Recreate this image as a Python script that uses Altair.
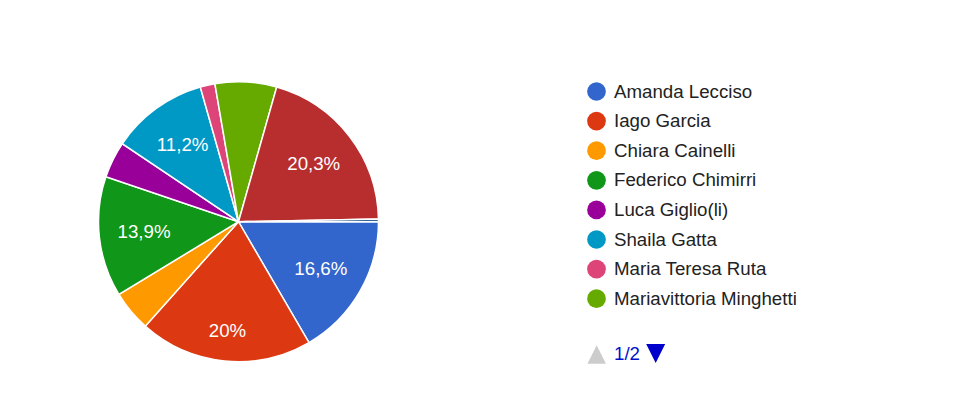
import altair as alt
import pandas as pd
import math

names = ["Amanda Lecciso", "Iago Garcia", "Chiara Cainelli", "Federico Chimirri",
         "Luca Giglio(li)", "Shaila Gatta", "Maria Teresa Ruta",
         "Mariavittoria Minghetti", "Altro 1", "Altro 2"]
pct = [16.6, 20.0, 4.7, 13.9, 4.2, 11.2, 1.7, 7.1, 20.3, 0.3]
colors = ["#3366cc", "#dc3912", "#ff9900", "#109618", "#990099", "#0099c6",
          "#dd4477", "#66aa00", "#b82e2e", "#316395"]
legend_names = names[:8]
page_text = ["1/2"]

df = pd.DataFrame({"name": names, "pct": pct, "idx": list(range(len(names)))})

CX, CY = 230.5, 213.7
FONT = "Liberation Sans"
FS = 18.7
tscale = alt.Scale(domain=[0, 100], range=[math.pi / 2, math.pi / 2 + 2 * math.pi])

pie = alt.Chart(df).mark_arc(outerRadius=140, stroke="white", strokeWidth=1.5).encode(
    theta=alt.Theta("pct:Q", stack=True, scale=tscale),
    order=alt.Order("idx:Q", sort="ascending"),
    color=alt.Color("name:N",
                    scale=alt.Scale(domain=names, range=colors),
                    legend=alt.Legend(values=legend_names, title=None, orient="none",
                                      legendX=579, legendY=74,
                                      symbolType="circle", symbolSize=350,
                                      symbolStrokeWidth=0, labelFont=FONT,
                                      labelFontSize=FS, labelColor="#222222",
                                      labelOffset=8, rowPadding=9.6, padding=0,
                                      labelLimit=400)),
    x=alt.value(CX), y=alt.value(CY),
)

labels = alt.Chart(df).transform_window(
    cum="sum(pct)", sort=[alt.SortField("idx", order="ascending")]
).transform_calculate(
    mid="datum.cum - datum.pct / 2",
    lab="replace(toString(datum.pct), '.', ',') + '%'",
    r="datum.name == 'Iago Garcia' ? 110 : 95",
).transform_filter("datum.pct >= 10").mark_text(
    font=FONT, fontSize=FS, color="white"
).encode(
    theta=alt.Theta("mid:Q", stack=None, scale=tscale),
    text="lab:N",
    radius=alt.Radius("r:Q", scale=None),
    x=alt.value(CX), y=alt.value(CY),
)

pg = pd.DataFrame({"t": page_text})
up = alt.Chart(pg).mark_point(shape="M-1,1L1,1L0,-1Z", filled=True, size=340,
                              color="#cccccc", opacity=1).encode(
    x=alt.value(588.7), y=alt.value(346.5))
down = alt.Chart(pg).mark_point(shape="M-1,-1L1,-1L0,1Z", filled=True, size=361,
                                color="#0000cc", opacity=1).encode(
    x=alt.value(647.7), y=alt.value(345.5))
ptxt = alt.Chart(pg).mark_text(font=FONT, fontSize=FS, color="#0011cc",
                               align="left", baseline="middle").encode(
    text="t:N", x=alt.value(606), y=alt.value(346))

chart = alt.layer(pie, labels, up, down, ptxt).properties(
    width=959, height=381, padding=0
).configure_view(stroke=None)

chart.save("out.html", embed_options={"renderer": "svg", "actions": False})
